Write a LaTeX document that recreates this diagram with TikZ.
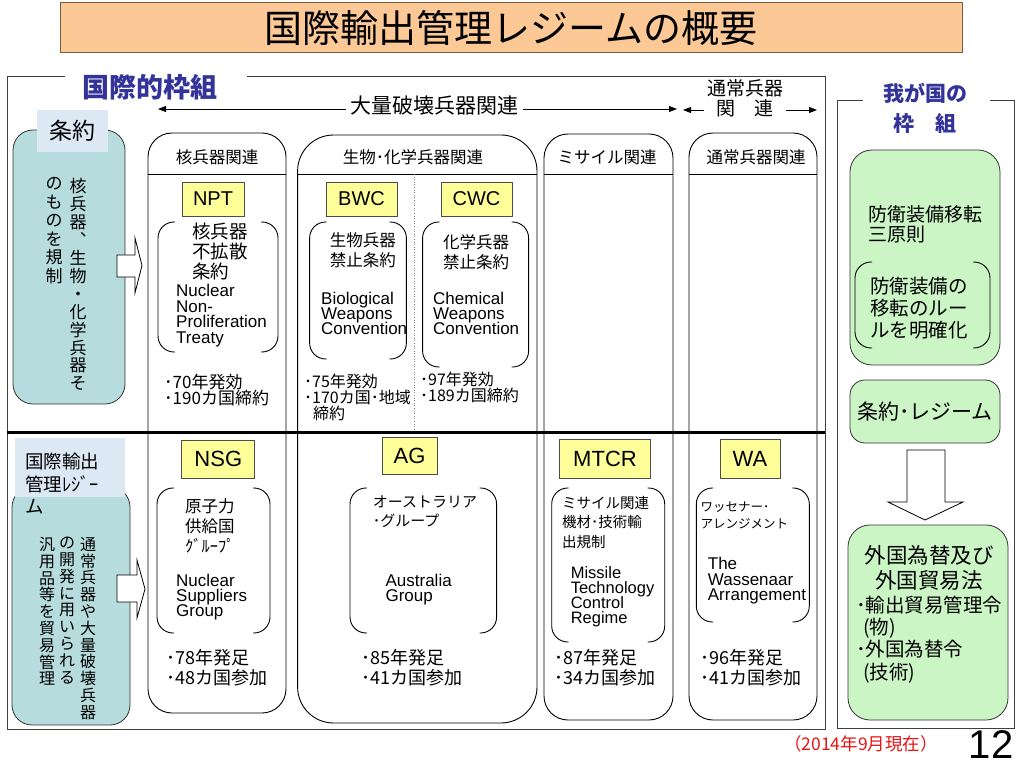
\documentclass[tikz,border=0pt]{standalone}
\usepackage{fontspec}
\setmainfont{Liberation Sans}
\newfontfamily\jp{Noto Sans CJK JP}
\usetikzlibrary{arrows.meta,calc}
\lineskiplimit=-100pt
\newcommand{\fsz}[2]{\fontsize{#1pt}{#2pt}\selectfont}
\definecolor{peach}{RGB}{252,201,150}
\definecolor{peachline}{RGB}{120,90,60}
\definecolor{tealfill}{RGB}{183,220,222}
\definecolor{patchblue}{RGB}{220,233,245}
\definecolor{greenfill}{RGB}{204,245,198}
\definecolor{yellowfill}{RGB}{255,255,153}
\definecolor{labelblue}{RGB}{51,51,153}
\definecolor{redtext}{RGB}{230,20,20}
\definecolor{frameline}{RGB}{64,64,64}
\newcommand{\brkt}[4]{%
  \draw[brk] (#1+17,#2) -- (#1,#2) -- (#1,#4) -- (#1+17,#4);
  \draw[brk] (#3-17,#2) -- (#3,#2) -- (#3,#4) -- (#3-17,#4);}
\tikzset{
  frm/.style={draw=frameline, line width=1pt},
  colbox/.style={draw=black, line width=0.9pt, rounded corners=24pt},
  brk/.style={draw=black, line width=0.9pt, rounded corners=16pt},
  ybox/.style={draw=gray!60!black, fill=yellowfill, line width=0.8pt, inner sep=0pt},
  gbox/.style={draw=gray!40!black, fill=greenfill, line width=0.8pt, inner sep=0pt, rounded corners=22pt},
  tbox/.style={draw=gray!40!black, fill=tealfill, line width=0.8pt, inner sep=0pt, rounded corners=20pt},
  hollow/.style={draw=black, fill=white, line width=0.8pt, line join=miter},
  arr/.style={-{Triangle[length=8pt,width=6pt]}, line width=0.8pt},
  txt/.style={inner sep=0pt, align=left, anchor=north west},
  vt/.style={inner sep=0pt, align=center, anchor=north},
  hdr/.style={inner sep=0pt, font={\jp\fsz{16.5}{18}}},
}
\begin{document}
\begin{tikzpicture}[x=1pt,y=-1pt]
\useasboundingbox (0,0) rectangle (1023,767);
\fill[white] (0,0) rectangle (1023,767);

% title
\node[draw=peachline, fill=peach, line width=1pt, minimum width=902pt, minimum height=50pt, inner sep=0pt, font={\jp\fsz{38}{40}}] (title) at (511,28) {国際輸出管理レジームの概要};

% outer frames
\draw[frm] (65,77) -- (7,77) -- (7,729) -- (825,729) -- (825,77) -- (247,77);
\node[inner sep=0pt, text=labelblue, font={\jp\bfseries\fsz{27}{28}}] (intl) at (150,87) {国際的枠組};
\draw[frm] (863,101) -- (837,101) -- (837,728) -- (1014,728) -- (1014,101) -- (990,101);
\node[inner sep=0pt, text=labelblue, align=center, font={\jp\bfseries\fsz{21}{30}}] (jpn) at (925,108) {我が国の\\枠　組};

% top arrows
\node[inner sep=4pt, font={\jp\fsz{21}{22}}] (wmd) at (434.5,106) {大量破壊兵器関連};
\coordinate (wmdL) at (158,109);
\coordinate (wmdR) at (677,109);
\draw[arr] (wmd.west |- wmdL) -- (wmdL);
\draw[arr] (wmd.east |- wmdR) -- (wmdR);
\node[inner sep=3pt, align=center, font={\jp\fsz{19}{20}}] (conv) at (745,98) {通常兵器\\関　連};
\coordinate (convL) at (683,110);
\coordinate (convR) at (817,110);
\draw[arr] (conv.west |- convL) -- (convL);
\draw[arr] (conv.east |- convR) -- (convR);

% columns
\draw[colbox] (148,133) rectangle (286,713);
\draw[line width=0.9pt] (148,174) -- (286,174);
\draw[colbox, rounded corners=36pt] (297.6,135) rectangle (537,723);
\draw[line width=0.9pt] (297.6,174) -- (537,174);
\draw[colbox] (544,134) rectangle (673,720);
\draw[line width=0.9pt] (544,174) -- (673,174);
\draw[colbox] (689,133) rectangle (817,720);
\draw[line width=0.9pt] (689,174) -- (817,174);
\draw[dotted, gray, line width=0.6pt] (414.7,174) -- (414.7,432);

\node[hdr] (hN) at (217,157) {核兵器関連};
\node[hdr] (hBC) at (413,157) {生物･化学兵器関連};
\node[hdr] (hM) at (607,157) {ミサイル関連};
\node[hdr] (hC) at (756,157) {通常兵器関連};

% thick separator
\draw[line width=3pt] (7,432) -- (825,432);

% ---- upper row
\node[ybox, minimum width=62pt, minimum height=34pt, font={\fsz{20}{22}}] (npt) at (213,199) {NPT};
\node[ybox, minimum width=71pt, minimum height=34pt, font={\fsz{20}{22}}] (bwc) at (361.5,199) {BWC};
\node[ybox, minimum width=71pt, minimum height=34pt, font={\fsz{20}{22}}] (cwc) at (476.5,199) {CWC};

\brkt{158}{222}{278}{352}
\brkt{309.6}{222}{406.4}{359}
\brkt{422.6}{222}{528.6}{367}

\node[txt, font={\jp\fsz{18.5}{20}}] (nptj) at (192,223) {核兵器\\不拡散\\条約};
\node[txt, font={\fsz{17}{15.5}}] (npte) at (176,284) {Nuclear\\Non-\\Proliferation\\Treaty};
\node[txt, font={\jp\fsz{16.5}{20}}] (bwcj) at (329.6,232.5) {生物兵器\\禁止条約};
\node[txt, font={\fsz{17}{15}}] (bwce) at (321,292) {Biological\\Weapons\\Convention};
\node[txt, font={\jp\fsz{16.5}{20}}] (cwcj) at (443,234.5) {化学兵器\\禁止条約};
\node[txt, font={\fsz{17}{15}}] (cwce) at (433,292) {Chemical\\Weapons\\Convention};

\node[txt, font={\jp\fsz{17}{16.5}}] (nptb) at (164,373.5) {･70年発効\\･190カ国締約};
\node[txt, font={\jp\fsz{16}{16}}] (bwcb) at (304,374) {･75年発効\\･170カ国･地域\\\hspace*{9pt}締約};
\node[txt, font={\jp\fsz{16}{16}}] (cwcb) at (420,372) {･97年発効\\･189カ国締約};

% ---- lower row
\node[ybox, minimum width=73pt, minimum height=38pt, font={\fsz{22}{24}}] (nsg) at (218.3,459) {NSG};
\node[ybox, minimum width=55pt, minimum height=37pt, font={\fsz{22}{24}}] (ag) at (409.5,455.5) {AG};
\node[ybox, minimum width=91pt, minimum height=39pt, font={\fsz{22}{24}}] (mtcr) at (605,458.5) {MTCR};
\node[ybox, minimum width=60pt, minimum height=39pt, font={\fsz{22}{24}}] (wa) at (750,458.5) {WA};

\brkt{157}{488}{270}{633}
\brkt{350}{488}{496.6}{633}
\brkt{551.7}{488}{664.7}{642}
\brkt{696.3}{488}{809.3}{622}

\node[txt, font={\jp\fsz{16.5}{20}}] (nsgj) at (185,498.75) {原子力\\供給国\\ｸﾞﾙｰﾌﾟ};
\node[txt, font={\fsz{17}{15}}] (nsge) at (176,574) {Nuclear\\Suppliers\\Group};
\node[txt, font={\jp\fsz{15}{19}}] (agj) at (372.6,495.5) {オーストラリア\\･グループ};
\node[txt, font={\fsz{17}{15}}] (age) at (385.4,574) {Australia\\Group};
\node[txt, font={\jp\fsz{14.5}{19.5}}] (mtcrj) at (562,495.7) {ミサイル関連\\機材･技術輸\\出規制};
\node[txt, font={\fsz{16.5}{15}}] (mtcre) at (570.6,566) {Missile\\Technology\\Control\\Regime};
\node[txt, font={\jp\fsz{12.5}{17}}] (waj) at (700.5,501.75) {ワッセナー･\\アレンジメント};
\node[txt, font={\fsz{17}{15.5}}] (wae) at (707.7,557) {The\\Wassenaar\\Arrangement};

\node[txt, font={\jp\fsz{18}{20}}] (nsgb) at (166,649) {･78年発足\\･48カ国参加};
\node[txt, font={\jp\fsz{18}{20}}] (agb) at (361,649) {･85年発足\\･41カ国参加};
\node[txt, font={\jp\fsz{18}{20}}] (mtcrb) at (554,649) {･87年発足\\･34カ国参加};
\node[txt, font={\jp\fsz{18}{20}}] (wab) at (700.5,649) {･96年発足\\･41カ国参加};

% ---- left side
\node[tbox, minimum width=112pt, minimum height=274pt] (treaty) at (69,267) {};
\node[fill=patchblue, minimum width=71pt, minimum height=42pt, inner sep=0pt, font={\jp\fsz{23}{24}}] (treatyL) at (72.5,131) {条約};
\node[vt, font={\jp\fsz{17}{17.9}}] (tv1) at (78,178.5) {核\\兵\\器\\︑\\生\\物\\・\\化\\学\\兵\\器\\そ};
\node[vt, font={\jp\fsz{17}{18.5}}] (tv2) at (54,177.5) {の\\も\\の\\を\\規\\制};
\draw[hollow] (117,255) -- (135,255) -- (135,238) -- (142,265.5) -- (135,293) -- (135,277) -- (117,277) -- cycle;

\node[tbox, minimum width=118pt, minimum height=238pt] (regime) at (71,606) {};
\node[fill=patchblue, minimum width=110pt, minimum height=59pt, inner sep=0pt] (regimeP) at (70,467.5) {};
\node[txt, font={\jp\fsz{18.5}{22.5}}] (regimeL) at (25,453) {国際輸出\\管理ﾚｼﾞｰ\\ム};
\node[vt, font={\jp\fsz{16}{16.8}}] (rv1) at (88,537) {通\\常\\兵\\器\\や\\大\\量\\破\\壊\\兵\\器};
\node[vt, font={\jp\fsz{16}{16.8}}] (rv2) at (67,537) {の\\開\\発\\に\\用\\い\\ら\\れ\\る};
\node[vt, font={\jp\fsz{16}{16.8}}] (rv3) at (47,537) {汎\\用\\品\\等\\を\\貿\\易\\管\\理};
\draw[hollow] (117,575) -- (137,575) -- (137,560) -- (145,589) -- (137,618) -- (137,602) -- (117,602) -- cycle;

% ---- right side
\node[gbox, minimum width=150pt, minimum height=215pt] (g1) at (925,257.5) {};
\node[txt, font={\jp\fsz{19}{20}}] (g1t) at (868,205.5) {防衛装備移転\\三原則};
\brkt{855}{262}{990}{348}
\node[txt, font={\jp\fsz{19.5}{22}}] (g1b) at (870,277.25) {防衛装備の\\移転のルー\\ルを明確化};
\node[gbox, rounded corners=15pt, minimum width=150pt, minimum height=63pt, font={\jp\fsz{21}{22}}] (g2) at (925,411.5) {条約･レジーム};
\draw[hollow] (907,450) -- (945,450) -- (945,502) -- (963,502) -- (925,520) -- (888,502) -- (907,502) -- cycle;
\node[gbox, minimum width=160pt, minimum height=195pt] (g3) at (928,622.5) {};
\node[inner sep=0pt, align=center, font={\jp\fsz{21.5}{25}}] (g3h) at (929,567.5) {外国為替及び\\外国貿易法};
\node[txt, font={\jp\fsz{19.5}{22.3}}] (g3l) at (856,595.5) {･輸出貿易管理令\\\hspace*{7pt}(物)\\･外国為替令\\\hspace*{7pt}(技術)};

% footer
\node[inner sep=0pt, text=redtext, font={\jp\fsz{17.5}{18}}] (date) at (861,744) {（2014年9月現在）};
\node[inner sep=0pt, font={\fsz{40}{42}}] (page) at (991,745) {12};
\end{tikzpicture}
\end{document}
